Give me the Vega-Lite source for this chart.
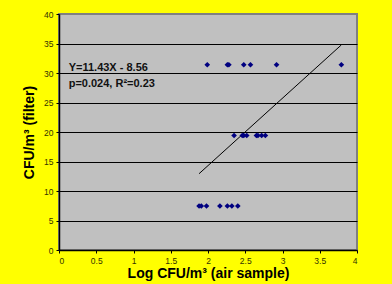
{
  "$schema": "https://vega.github.io/schema/vega-lite/v6.json",
  "width": 298,
  "height": 236,
  "autosize": "none",
  "padding": {"left": 59, "top": 14, "right": 35, "bottom": 34},
  "background": "#ffff00",
  "config": {
    "view": {"fill": "#c0c0c0", "stroke": "#808080", "strokeWidth": 2},
    "font": "Liberation Sans"
  },
  "datasets": {
    "samples": [
      {"x": 1.99, "y": 31.4}, {"x": 2.26, "y": 31.4}, {"x": 2.28, "y": 31.4}, {"x": 2.48, "y": 31.4}, {"x": 2.57, "y": 31.4}, {"x": 2.92, "y": 31.4}, {"x": 3.79, "y": 31.4},
      {"x": 2.35, "y": 19.4}, {"x": 2.46, "y": 19.4}, {"x": 2.48, "y": 19.4}, {"x": 2.52, "y": 19.4}, {"x": 2.65, "y": 19.4}, {"x": 2.67, "y": 19.4}, {"x": 2.72, "y": 19.4}, {"x": 2.77, "y": 19.4},
      {"x": 1.88, "y": 7.45}, {"x": 1.91, "y": 7.45}, {"x": 1.98, "y": 7.45}, {"x": 2.16, "y": 7.45}, {"x": 2.26, "y": 7.45}, {"x": 2.32, "y": 7.45}, {"x": 2.40, "y": 7.45}
    ],
    "fit": [{"x": 1.88, "y": 12.93}, {"x": 3.79, "y": 34.76}],
    "notes": [
      {"x": 0.13, "y": 30.3, "label": "Y=11.43X - 8.56"},
      {"x": 0.13, "y": 27.6, "label": "p=0.024, R²=0.23"}
    ]
  },
  "encoding": {
    "x": {
      "field": "x", "type": "quantitative",
      "scale": {"domain": [0, 4], "nice": false, "zero": false},
      "axis": {
        "values": [0, 0.5, 1, 1.5, 2, 2.5, 3, 3.5, 4],
        "format": "~g", "grid": false,
        "labelFontSize": 8.5, "labelColor": "#333300", "labelPadding": 3,
        "tickSize": 3, "tickColor": "#000000", "domainColor": "#000000", "domainWidth": 1.5,
        "title": "Log CFU/m³ (air sample)", "titleFontSize": 14, "titleFontWeight": "bold",
        "titleColor": "#000000", "titlePadding": 2
      }
    },
    "y": {
      "field": "y", "type": "quantitative",
      "scale": {"domain": [0, 40], "nice": false},
      "axis": {
        "values": [0, 5, 10, 15, 20, 25, 30, 35, 40],
        "grid": true, "gridColor": "#000000", "gridWidth": 1,
        "gridOpacity": {"condition": {"test": "datum.value === 0 || datum.value === 40", "value": 0}, "value": 1},
        "labelFontSize": 8.5, "labelColor": "#333300", "labelPadding": 3,
        "tickSize": 3, "tickColor": "#000000", "domainColor": "#000000", "domainWidth": 1.5,
        "title": "CFU/m³ (filter)", "titleFontSize": 14, "titleFontWeight": "bold",
        "titleColor": "#000000", "titlePadding": 7
      }
    }
  },
  "layer": [
    {
      "data": {"name": "fit"},
      "mark": {"type": "line", "color": "#000000", "strokeWidth": 1}
    },
    {
      "data": {"name": "samples"},
      "mark": {"type": "point", "shape": "diamond", "filled": true, "color": "#000080", "size": 32, "opacity": 1}
    },
    {
      "data": {"name": "notes"},
      "mark": {"type": "text", "align": "left", "baseline": "alphabetic", "fontWeight": "bold", "fontSize": 11, "color": "#111111"},
      "encoding": {"text": {"field": "label"}}
    }
  ]
}
